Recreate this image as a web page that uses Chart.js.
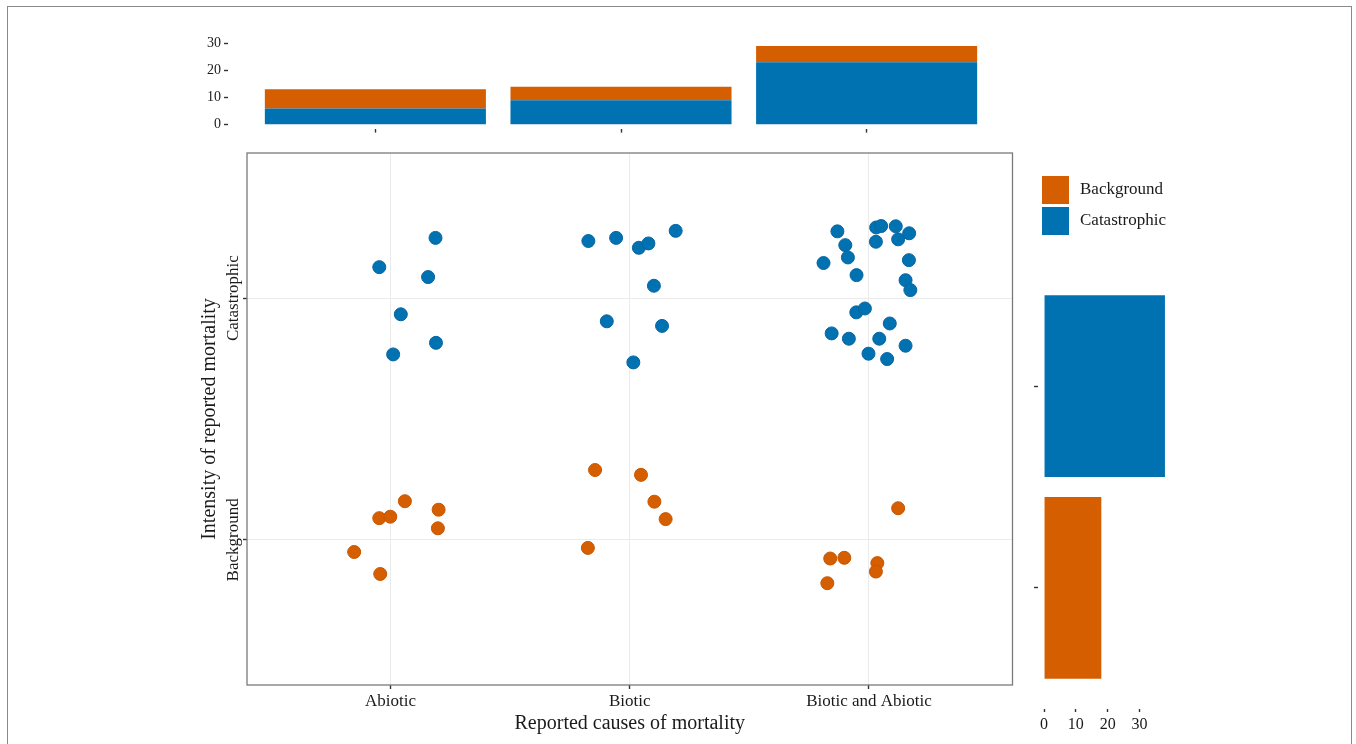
<!DOCTYPE html>
<html>
<head>
<meta charset="utf-8">
<script src="https://cdn.jsdelivr.net/npm/chart.js@4"></script>
<style>
  html, body { margin: 0; padding: 0; background: #fff; }
  body { width: 1356px; height: 744px; position: relative; overflow: hidden; font-family: "Liberation Serif", "Times New Roman", serif; }
  #frame { position: absolute; left: 7px; top: 6px; width: 1345px; height: 800px; border: 1.5px solid #8a8a8a; box-sizing: border-box; }
  canvas { position: absolute; }
  #legend { position: absolute; left: 1042px; top: 176px; }
  .item { position: relative; height: 31px; }
  .sw { position: absolute; left: 0; width: 27px; height: 28px; }
  .lab { position: absolute; left: 38px; top: 3px; font-size: 17px; color: #1a1a1a; white-space: nowrap; }
</style>
</head>
<body>
<div id="frame"></div>
<canvas id="top" width="830" height="110" style="left:190px;top:30px;width:830px;height:110px"></canvas>
<canvas id="main" width="830" height="604" style="left:190px;top:140px;width:830px;height:604px"></canvas>
<canvas id="side" width="180" height="494" style="left:1015px;top:250px;width:180px;height:494px"></canvas>
<div id="legend">
  <div class="item"><div class="sw" style="background:#D55E00"></div><div class="lab">Background</div></div>
  <div class="item"><div class="sw" style="background:#0072B2;top:0"></div><div class="lab">Catastrophic</div></div>
</div>
<script>
// ---- data ----
const causes = ["Abiotic", "Biotic", "Biotic and Abiotic"];
const intensities = ["Background", "Catastrophic"];
const catastrophicCounts = [6, 9, 23];
const backgroundCounts = [7, 5, 6];

// jittered point positions (x: cause position 1..3, y: intensity position 1..2)
const catastrophicX = [1.188, 0.953, 1.157, 1.043, 1.190, 1.011,
  1.827, 1.943, 2.038, 2.078, 2.192, 2.101, 1.904, 2.135, 2.015,
  2.868, 3.030, 3.051, 3.112, 3.029, 3.122, 3.168, 2.901, 2.912, 2.810, 3.167, 2.948,
  3.153, 3.173, 2.947, 2.983, 3.087, 2.844, 2.916, 3.043, 3.153, 2.998, 3.076];
const catastrophicY = [2.249, 2.128, 2.087, 1.933, 1.815, 1.767,
  2.236, 2.249, 2.208, 2.226, 2.278, 2.051, 1.904, 1.885, 1.734,
  2.276, 2.292, 2.298, 2.297, 2.233, 2.243, 2.268, 2.219, 2.168, 2.145, 2.157, 2.095,
  2.074, 2.033, 1.941, 1.957, 1.895, 1.854, 1.832, 1.832, 1.803, 1.770, 1.748];
const backgroundX = [1.060, 0.953, 0.999, 1.201, 1.198, 0.848, 0.957,
  1.855, 2.047, 2.103, 2.150, 1.825,
  3.122, 2.838, 2.897, 3.035, 3.029, 2.826];
const backgroundY = [1.160, 1.090, 1.096, 1.125, 1.048, 0.950, 0.859,
  1.289, 1.269, 1.158, 1.086, 0.967,
  1.131, 0.923, 0.926, 0.904, 0.869, 0.821];

const topTicks = [0, 10, 20, 30];
const sideTicks = [0, 10, 20, 30];

// ---- style ----
const ORANGE = "#D55E00";
const BLUE = "#0072B2";
const TXT = "#1a1a1a";
Chart.defaults.font.family = '"Liberation Serif", "Times New Roman", serif';
Chart.defaults.color = TXT;
Chart.defaults.animation = false;

const sum = a => a.reduce((s, v) => s + v, 0);
const fixW = w => (s) => { s.width = w; };
const fixH = h => (s) => { s.height = h; };
const setTicks = vals => (s) => { s.ticks = vals.map(v => ({ value: v })); };

// ---- top marginal stacked bar ----
new Chart(document.getElementById("top"), {
  type: "bar",
  data: {
    datasets: [
      { label: "Catastrophic", data: causes.map((c, i) => ({ x: i + 1, y: catastrophicCounts[i] })), backgroundColor: BLUE },
      { label: "Background", data: causes.map((c, i) => ({ x: i + 1, y: backgroundCounts[i] })), backgroundColor: ORANGE }
    ]
  },
  options: {
    responsive: false,
    layout: { padding: { top: 12, right: 6, left: 0, bottom: 0 } },
    datasets: { bar: { barPercentage: 0.9, categoryPercentage: 1.0 } },
    plugins: { legend: { display: false }, tooltip: { enabled: false } },
    scales: {
      x: {
        type: "linear", min: 0.4, max: 3.6, stacked: true, offset: false,
        afterBuildTicks: setTicks([1, 2, 3]), afterFit: fixH(11),
        ticks: { callback: () => "", padding: 0 },
        grid: { offset: false, drawOnChartArea: false, drawTicks: true, tickLength: 4, tickColor: "#333", tickWidth: 1.4 },
        border: { display: false }
      },
      y: {
        type: "linear", min: -1.45, max: 30.45, stacked: true,
        afterBuildTicks: setTicks(topTicks), afterFit: fixW(38),
        ticks: { font: { size: 14 }, padding: 3, color: TXT },
        grid: { drawOnChartArea: false, drawTicks: true, tickLength: 4, tickColor: "#333", tickWidth: 1.4 },
        border: { display: false }
      }
    }
  }
});

// ---- main jitter scatter ----
const panelBox = {
  id: "panelBox",
  afterDraw(chart) {
    const { ctx, chartArea: a } = chart;
    ctx.save();
    ctx.strokeStyle = "#7a7a7a";
    ctx.lineWidth = 1.3;
    ctx.strokeRect(a.left, a.top, a.right - a.left, a.bottom - a.top);
    // rotated y tick labels
    const ys = chart.scales.y;
    ctx.fillStyle = TXT;
    ctx.font = '17px "Liberation Serif", "Times New Roman", serif';
    ctx.textAlign = "center";
    ctx.textBaseline = "middle";
    intensities.forEach((lab, i) => {
      const py = ys.getPixelForValue(i + 1);
      ctx.save();
      ctx.translate(ys.right - 13, py);
      ctx.rotate(-Math.PI / 2);
      ctx.fillText(lab, 0, 0);
      ctx.restore();
    });
    ctx.restore();
  }
};

new Chart(document.getElementById("main"), {
  type: "scatter",
  data: {
    datasets: [
      { label: "Background", data: backgroundX.map((x, i) => ({ x, y: backgroundY[i] })),
        backgroundColor: ORANGE, borderColor: "#c65600", borderWidth: 1, pointRadius: 6.5 },
      { label: "Catastrophic", data: catastrophicX.map((x, i) => ({ x, y: catastrophicY[i] })),
        backgroundColor: BLUE, borderColor: "#0a64a0", borderWidth: 1, pointRadius: 6.5 }
    ]
  },
  options: {
    responsive: false,
    layout: { padding: { top: 13, right: 7, left: 0, bottom: 0 } },
    plugins: { legend: { display: false }, tooltip: { enabled: false } },
    scales: {
      x: {
        type: "linear", min: 0.4, max: 3.6,
        afterBuildTicks: setTicks([1, 2, 3]), afterFit: fixH(59),
        ticks: { callback: v => causes[v - 1] || "", font: { size: 17 }, padding: 2, maxRotation: 0, autoSkip: false, color: TXT },
        grid: { color: "#ebebeb", lineWidth: 1, drawTicks: true, tickLength: 4, tickColor: "#333", tickWidth: 1.4 },
        border: { display: false },
        title: { display: true, text: "Reported causes of mortality", font: { size: 20 }, padding: { top: 0, bottom: 8 }, color: TXT }
      },
      y: {
        type: "linear", min: 0.4, max: 2.6,
        afterBuildTicks: setTicks([1, 2]), afterFit: fixW(57),
        ticks: { callback: () => "", padding: 0 },
        grid: { color: "#ebebeb", lineWidth: 1, drawTicks: true, tickLength: 4, tickColor: "#333", tickWidth: 1.4 },
        border: { display: false },
        title: { display: true, text: "Intensity of reported mortality", font: { size: 20 }, padding: { top: 8, bottom: 0 }, color: TXT }
      }
    }
  },
  plugins: [panelBox]
});

// ---- right marginal bar ----
const totals = [sum(backgroundCounts), sum(catastrophicCounts)];
new Chart(document.getElementById("side"), {
  type: "bar",
  data: {
    datasets: [
      { label: "Total", data: intensities.map((lab, i) => ({ y: i + 1, x: totals[i] })), backgroundColor: [ORANGE, BLUE] }
    ]
  },
  options: {
    responsive: false,
    indexAxis: "y",
    layout: { padding: { top: 15, right: 24, left: 0, bottom: 0 } },
    datasets: { bar: { barPercentage: 0.9, categoryPercentage: 1.0 } },
    plugins: { legend: { display: false }, tooltip: { enabled: false } },
    scales: {
      x: {
        type: "linear", min: -1.9, max: 39.9, offset: false,
        afterBuildTicks: setTicks(sideTicks), afterFit: fixH(35),
        ticks: { font: { size: 16 }, padding: 3, maxRotation: 0, autoSkip: false, color: TXT },
        grid: { offset: false, drawOnChartArea: false, drawTicks: true, tickLength: 3, tickColor: "#333", tickWidth: 1.4 },
        border: { display: false }
      },
      y: {
        type: "linear", min: 0.4, max: 2.6, offset: false,
        afterBuildTicks: setTicks([1, 2]), afterFit: fixW(23),
        ticks: { callback: () => "", padding: 0 },
        grid: { offset: false, drawOnChartArea: false, drawTicks: true, tickLength: 4, tickColor: "#333", tickWidth: 1.4 },
        border: { display: false }
      }
    }
  }
});
</script>
</body>
</html>
